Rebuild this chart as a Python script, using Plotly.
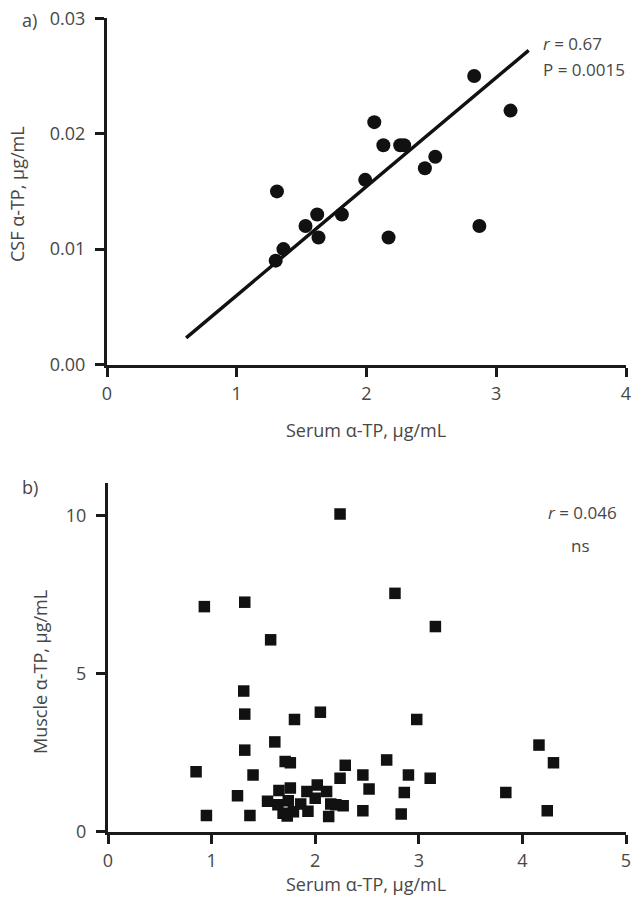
import plotly.graph_objects as go

# Panel a: CSF vs serum alpha-TP
csf_serum = [1.31, 1.30, 1.36, 1.53, 1.62, 1.63, 1.81, 1.99, 2.06, 2.13, 2.17, 2.26, 2.29, 2.45, 2.53, 2.83, 2.87, 3.11]
csf_value = [0.015, 0.009, 0.010, 0.012, 0.013, 0.011, 0.013, 0.016, 0.021, 0.019, 0.011, 0.019, 0.019, 0.017, 0.018, 0.025, 0.012, 0.022]
fit_x = [0.61, 3.25]
fit_y = [0.00231, 0.02722]

# Panel b: Muscle vs serum alpha-TP
muscle_serum = [2.24, 0.93, 1.32, 2.77, 3.16, 1.57, 1.31, 1.32, 2.05, 1.80, 2.98, 1.61, 1.32, 4.16, 2.69,
                4.30, 1.71, 1.76, 2.29, 0.85, 1.40, 2.46, 2.90, 3.11, 2.24, 2.52, 2.86, 3.84, 1.25, 0.95,
                1.37, 2.46, 2.83, 4.24, 1.54, 1.65, 1.76, 1.69, 1.79, 1.86, 1.92, 2.02, 2.00, 2.11, 2.15,
                2.13, 2.27, 2.20, 1.64, 1.74, 1.93, 1.73]
muscle_value = [10.05, 7.12, 7.26, 7.54, 6.49, 6.07, 4.45, 3.72, 3.78, 3.55, 3.55, 2.84, 2.58, 2.74, 2.27,
                2.18, 2.22, 2.18, 2.10, 1.90, 1.79, 1.79, 1.79, 1.69, 1.69, 1.35, 1.24, 1.24, 1.14, 0.51,
                0.51, 0.66, 0.56, 0.66, 0.96, 1.30, 1.38, 0.58, 0.63, 0.88, 1.27, 1.48, 1.06, 1.27, 0.88,
                0.48, 0.82, 0.85, 0.85, 0.98, 0.65, 0.50]

a_xticks = [0, 1, 2, 3, 4]
a_yticks = [0.00, 0.01, 0.02, 0.03]
b_xticks = [0, 1, 2, 3, 4, 5]
b_yticks = [0, 5, 10]

W, H = 633, 906
FONT = "Open Sans"
TXT = "#474747"
AX = "#1a1a1a"
FS = 18
NS = 17

def px(x):
    return x / W

def py(y):
    return 1 - y / H

fig = go.Figure()

fig.add_trace(go.Scatter(x=fit_x, y=fit_y, mode="lines",
                         line=dict(color="#111111", width=3.4),
                         xaxis="x", yaxis="y", showlegend=False, hoverinfo="skip"))
fig.add_trace(go.Scatter(x=csf_serum, y=csf_value, mode="markers",
                         marker=dict(symbol="circle", size=14, color="#111111"),
                         xaxis="x", yaxis="y", showlegend=False))
fig.add_trace(go.Scatter(x=muscle_serum, y=muscle_value, mode="markers",
                         marker=dict(symbol="square", size=11.5, color="#111111"),
                         xaxis="x2", yaxis="y2", showlegend=False))

axis_common = dict(showline=True, linewidth=3, linecolor=AX, ticks="outside",
                   ticklen=9, tickwidth=3, tickcolor=AX, showgrid=False, zeroline=False,
                   tickfont=dict(family=FONT, size=FS, color=TXT), automargin=False,
                   fixedrange=True)

fig.update_layout(
    width=W, height=H,
    margin=dict(l=0, r=0, t=0, b=0),
    paper_bgcolor="white", plot_bgcolor="white",
    xaxis=dict(domain=[px(107), px(626)], range=[0, 4], tickvals=a_xticks, anchor="y",
               ticklabelstandoff=2, **axis_common),
    yaxis=dict(domain=[py(364.5), py(18.3)], range=[0, 0.03], tickvals=a_yticks,
               tickformat=".2f", anchor="x", ticklabelstandoff=6, **axis_common),
    xaxis2=dict(domain=[px(108), px(626)], range=[0, 5], tickvals=b_xticks, anchor="y2",
                ticklabelstandoff=2, **axis_common),
    yaxis2=dict(domain=[py(831.7), py(482.7)], range=[0, 11.04], tickvals=b_yticks,
                anchor="x2", ticklabelstandoff=6, **axis_common),
)

def note(text, x, y, size=FS, angle=0, xanchor="center"):
    fig.add_annotation(text=text, x=px(x), y=py(y), xref="paper", yref="paper",
                       showarrow=False, xanchor=xanchor, yanchor="middle", textangle=angle,
                       font=dict(family=FONT, size=size, color=TXT))

note("a)", 29, 20)
note("b)", 30, 487)
note("Serum α-TP, μg/mL", 366, 430)
note("Serum α-TP, μg/mL", 366, 884)
note("CSF α-TP, μg/mL", 17, 194, angle=-90)
note("Muscle α-TP, μg/mL", 40, 672, angle=-90)
note("<i>r</i> = 0.67", 541, 43, size=NS, xanchor="left")
note("P = 0.0015", 541, 70, size=NS, xanchor="left")
note("<i>r</i> = 0.046", 546, 512, size=NS, xanchor="left")
note("ns", 580, 545, size=NS)

fig.write_html("out.html", config={"displayModeBar": False},
               post_script="document.body.style.margin='0';document.body.style.overflow='hidden';")
